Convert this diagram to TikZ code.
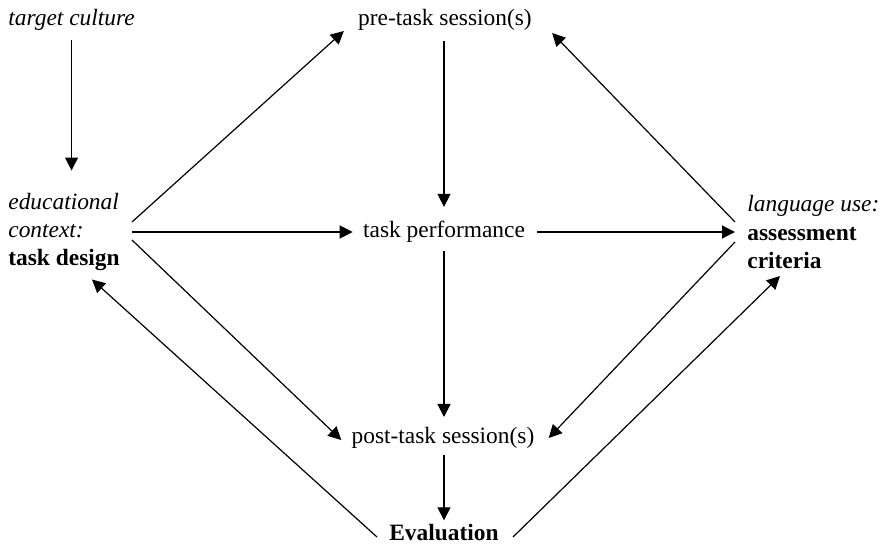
\documentclass[tikz,border=0pt]{standalone}
\usepackage{fontspec}
\setmainfont{Liberation Serif}
\usetikzlibrary{calc,arrows.meta}
\tikzset{
    txt/.style={
        inner sep=0pt,
        font=\fontsize{11.7}{14.2}\selectfont
    },
    side/.style={
        txt,
        align=left,
        anchor=west
    },
    link/.style={
        line width=0.6pt,
        -{Triangle[length=6.5pt,width=6.5pt]}
    }
}
\begin{document}
\begin{tikzpicture}[x=0.5pt,y=-0.5pt]

    \useasboundingbox (0,0) rectangle (880,546);

    \node (culture) [txt,anchor=west] at (8,20) {\textit{target culture}};
    \node (design) [side] at (8,232) {\textit{educational}\\\textit{context:}\\\textbf{task design}};
    \node (criteria) [side] at (747,232) {\textit{language use:}\\\textbf{assessment}\\\textbf{criteria}};

    \node (pre) [txt] at (445,20) {pre-task session(s)};
    \node (perf) [txt] at (444,232) {task performance};
    \node (post) [txt] at (443,438) {post-task session(s)};
    \node (eval) [txt] at (444,533) {\textbf{Evaluation}};

    %% left side
    \draw[link] ($(culture.south)+(0,9)$) -- ($(culture.south |- design.north)+(0,-22)$);
    \draw[link] ($(design.east)+(12,-10)$) -- ($(pre.south west)+(-14,0)$);
    \draw[link] ($(design.east |- perf.west)+(12,0)$) -- ($(perf.west)+(-10,0)$);
    \draw[link] ($(design.east)+(12,8)$) -- ($(post.west)+(-10,2)$);

    %% middle column
    \draw[link] ($(pre.south -| perf)+(0,10)$) -- ($(perf.north)+(0,-14)$);
    \draw[link] ($(perf.south)+(0,8)$) -- ($(perf.south |- post.north)+(0,-10)$);
    \draw[link] ($(perf.south |- post.south)+(0,6)$) -- ($(perf.south |- eval.north)+(0,-4)$);

    %% right side
    \draw[link] ($(perf.east)+(12,0)$) -- ($(criteria.west)+(-12,0)$);
    \draw[link] ($(criteria.west)+(-12,-10)$) -- ($(pre.south east)+(20,2)$);
    \draw[link] ($(criteria.west)+(-12,10)$) -- ($(post.east)+(14,0)$);

    %% evaluation feeds back
    \draw[link] ($(eval.west)+(-12,4)$) -- ($(design.south east)+(-28,8)$);
    \draw[link] ($(eval.east)+(14,4)$) -- ($(criteria.south west)+(33,7)$);

\end{tikzpicture}
\end{document}
